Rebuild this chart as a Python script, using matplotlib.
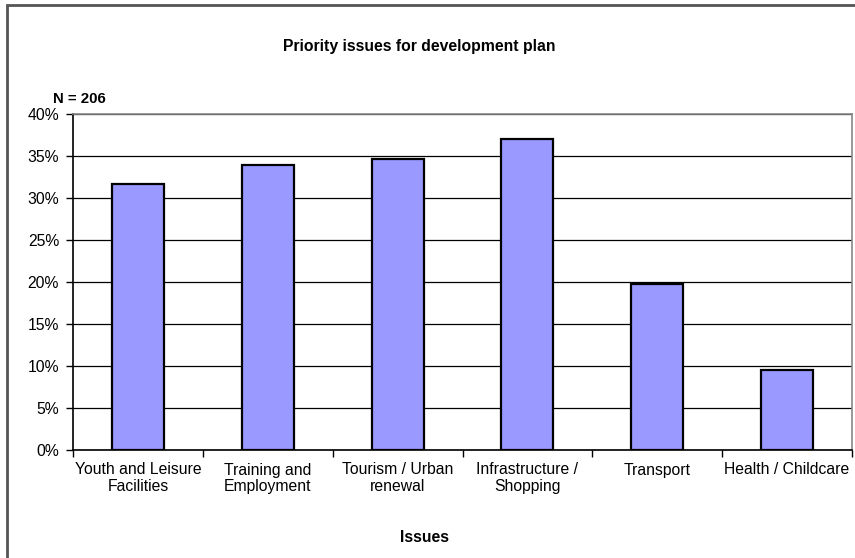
import matplotlib
matplotlib.use("Agg")
import matplotlib.pyplot as plt
from matplotlib.patches import Rectangle
from matplotlib.ticker import FuncFormatter, FixedLocator

categories = ["Youth and Leisure\nFacilities", "Training and\nEmployment",
              "Tourism / Urban\nrenewal", "Infrastructure /\nShopping",
              "Transport", "Health / Childcare"]
values = [31.7, 34.0, 34.7, 37.0, 19.8, 9.5]
y_ticks = [0, 5, 10, 15, 20, 25, 30, 35, 40]

plt.rcParams["font.family"] = ["Liberation Sans", "DejaVu Sans"]

fig = plt.figure(figsize=(8.55, 5.58), dpi=100)
fig.patch.set_facecolor("white")

# outer chart frame (only left/top visible within the canvas)
frame = Rectangle((7 / 855, -0.05), 1.1, (558 - 5) / 558 + 0.05,
                  transform=fig.transFigure, fill=False,
                  edgecolor="#555555", linewidth=2.0, zorder=0)
fig.patches.append(frame)

ax = fig.add_axes([73 / 855, 1 - 450 / 558, (852 - 73) / 855, (450 - 114.3) / 558])
x = list(range(len(categories)))
ax.bar(x, values, width=0.4, color="#9999FF", edgecolor="black",
       linewidth=1.6, zorder=3)

ax.set_xlim(-0.5, len(categories) - 0.5)
ax.set_ylim(0, 40)
ax.set_yticks(y_ticks)
ax.yaxis.set_major_formatter(FuncFormatter(lambda v, p: f"{int(v)}%"))
ax.yaxis.grid(True, color="black", linewidth=0.9, zorder=1)
ax.set_axisbelow(True)

# category labels centred, tick marks on the boundaries
ax.set_xticks(x)
ax.set_xticklabels(categories, fontsize=11.3, linespacing=1.1)
ax.tick_params(axis="x", length=0, pad=9)
ax.xaxis.set_minor_locator(FixedLocator([i - 0.5 for i in range(len(categories) + 1)]))
ax.tick_params(axis="x", which="minor", length=5, width=1, color="black", direction="out")
ax.tick_params(axis="y", length=5, width=1, direction="out", labelsize=11.3, pad=5)

for side in ["left", "bottom"]:
    ax.spines[side].set_color("black")
    ax.spines[side].set_linewidth(1.2)
for side in ["top", "right"]:
    ax.spines[side].set_color("#888888")
    ax.spines[side].set_linewidth(1.2)

fig.text(419 / 855, 1 - 47 / 558, "Priority issues for development plan",
         ha="center", va="center", fontsize=11.3, fontweight="bold")
fig.text(53 / 855, 1 - 99 / 558, "N = 206", ha="left", va="center",
         fontsize=10.8, fontweight="bold")
fig.text(424 / 855, 1 - 538 / 558, "Issues", ha="center", va="center",
         fontsize=11.3, fontweight="bold")

fig.savefig("out.png", dpi=100)
